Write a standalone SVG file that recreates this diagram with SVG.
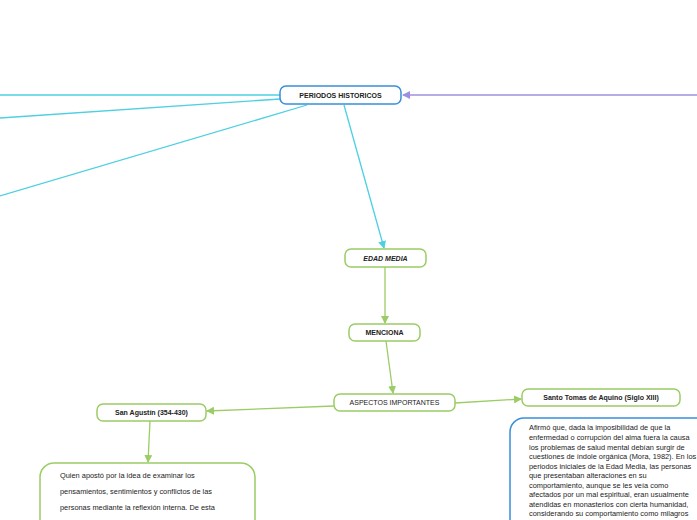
<svg xmlns="http://www.w3.org/2000/svg" width="697" height="520" viewBox="0 0 697 520">
<style>
text{font-family:"Liberation Sans",Arial,sans-serif;fill:#222}
.n{fill:#fff;stroke-width:1.5}
.b{font-size:7px;font-weight:bold;text-anchor:middle}
.t{font-size:7.4px}
.c{fill:none;stroke-width:1.3}
</style>
<defs>
<marker id="ac" markerWidth="8" markerHeight="8" refX="7" refY="4" orient="auto" markerUnits="userSpaceOnUse"><path d="M0,0L8,4L0,8z" fill="#4dd0e1"/></marker>
<marker id="ag" markerWidth="8" markerHeight="8" refX="7" refY="4" orient="auto" markerUnits="userSpaceOnUse"><path d="M0,0L8,4L0,8z" fill="#9ccc65"/></marker>
<marker id="ap" markerWidth="8" markerHeight="8" refX="7" refY="4" orient="auto" markerUnits="userSpaceOnUse"><path d="M0,0L8,4L0,8z" fill="#9f8fe0"/></marker>
</defs>
<rect width="697" height="520" fill="#fff"/>
<g id="connectors">
<path class="c" stroke="#4dd0e1" d="M280,95L0,95"/>
<path class="c" stroke="#4dd0e1" d="M280,99L0,118"/>
<path class="c" stroke="#4dd0e1" d="M307,105L0,196"/>
<path class="c" stroke="#4dd0e1" d="M344,105L384,248" marker-end="url(#ac)"/>
<path class="c" stroke="#9f8fe0" d="M697,95L403,95" marker-end="url(#ap)"/>
<path class="c" stroke="#9ccc65" d="M385,267L385,323" marker-end="url(#ag)"/>
<path class="c" stroke="#9ccc65" d="M386,341L393,393" marker-end="url(#ag)"/>
<path class="c" stroke="#9ccc65" d="M334,406L207,411" marker-end="url(#ag)"/>
<path class="c" stroke="#9ccc65" d="M455,403L521,399" marker-end="url(#ag)"/>
<path class="c" stroke="#9ccc65" d="M150,421L148,462" marker-end="url(#ag)"/>
</g>
<g id="root"><rect class="n" stroke="#3a8fd9" x="280" y="86" width="121" height="18" rx="6"/><text class="b" x="340.5" y="97.5">PERIODOS HISTORICOS</text></g>
<g id="edad"><rect class="n" stroke="#9ccc65" x="345" y="249" width="81" height="18" rx="6"/><text class="b" x="385.5" y="260.5" font-style="italic">EDAD MEDIA</text></g>
<g id="menciona"><rect class="n" stroke="#9ccc65" x="349" y="324" width="71" height="17" rx="6"/><text class="b" x="384.5" y="335">MENCIONA</text></g>
<g id="aspectos"><rect class="n" stroke="#9ccc65" x="334" y="394" width="121" height="17" rx="6"/><text class="b" x="394.5" y="405" style="font-weight:normal">ASPECTOS IMPORTANTES</text></g>
<g id="agustin"><rect class="n" stroke="#9ccc65" x="97" y="404" width="109" height="17" rx="6"/><text class="b" x="151.5" y="415">San Agustín (354-430)</text></g>
<g id="tomas"><rect class="n" stroke="#9ccc65" x="522" y="389" width="158" height="17" rx="6"/><text class="b" x="601" y="400">Santo Tomas de Aquino (Siglo XIII)</text></g>
<g id="agustin-desc"><rect class="n" stroke="#9ccc65" x="40" y="463" width="215" height="70" rx="14"/>
<text class="t" x="60" y="478">Quien apostó por la idea de examinar los</text>
<text class="t" x="60" y="494">pensamientos, sentimientos y conflictos de las</text>
<text class="t" x="60" y="510">personas mediante la reflexión interna. De esta</text>
<text class="t" x="60" y="526">forma, sus "Confesiones" están muy vinculadas</text></g>
<g id="tomas-desc"><rect class="n" stroke="#3a8fd9" x="510" y="418" width="200" height="115" rx="14"/>
<text class="t" x="529" y="430">Afirmó que, dada la imposibilidad de que la</text>
<text class="t" x="529" y="440">enfermedad o corrupción del alma fuera la causa</text>
<text class="t" x="529" y="449.5">los problemas de salud mental debían surgir de</text>
<text class="t" x="529" y="459">cuestiones de índole orgánica (Mora, 1982). En los</text>
<text class="t" x="529" y="468.5">periodos iniciales de la Edad Media, las personas</text>
<text class="t" x="529" y="478">que presentaban alteraciones en su</text>
<text class="t" x="529" y="487.5">comportamiento, aunque se les veía como</text>
<text class="t" x="529" y="497">afectados por un mal espiritual, eran usualmente</text>
<text class="t" x="529" y="506.5">atendidas en monasterios con cierta humanidad,</text>
<text class="t" x="529" y="516">considerando su comportamiento como milagros</text>
<text class="t" x="529" y="525.5">o incluso como el resultado de una acción divina.</text></g>
</svg>
